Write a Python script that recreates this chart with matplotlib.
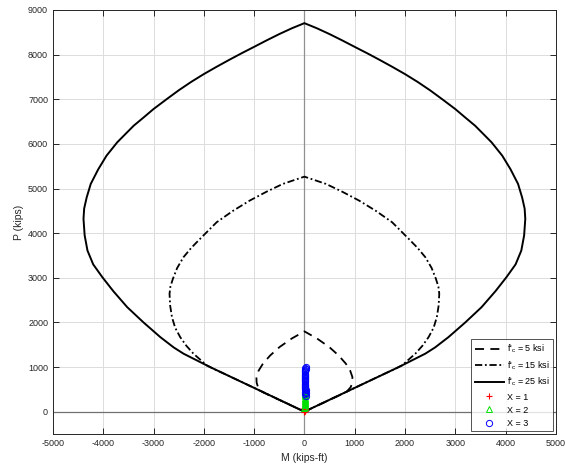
import numpy as np
import matplotlib
matplotlib.use("Agg")
import matplotlib.pyplot as plt

plt.rcParams['font.family'] = ['Liberation Sans', 'DejaVu Sans']
plt.rcParams['mathtext.fontset'] = 'custom'
plt.rcParams['mathtext.rm'] = 'Liberation Sans'
plt.rcParams['mathtext.it'] = 'Liberation Sans'
plt.rcParams['axes.unicode_minus'] = False

# left half of each interaction diagram (M <= 0), from top point down to origin
m_25 = [0, -250, -500, -750, -1000, -1250, -1500, -1750, -2000, -2250,
        -2500, -2737, -3000, -3200, -3395, -3560, -3723, -3935, -4100, -4249,
        -4330, -4380, -4393, -4370, -4314, -4200, -4018, -3800, -3524, -3200,
        -2866, -2600, -2405, -1877, 0]
p_25 = [8705, 8590, 8460, 8320, 8174, 8030, 7880, 7725, 7564, 7390,
        7200, 7004, 6781, 6590, 6407, 6220, 6034, 5736, 5430, 5103,
        4800, 4550, 4320, 3950, 3610, 3300, 3013, 2700, 2342, 2000,
        1671, 1440, 1300, 1000, 0]

m_15 = [0, -200, -429, -750, -1087, -1420, -1745, -2075, -2250, -2405,
        -2530, -2615, -2665, -2682, -2670, -2634, -2570, -2470, -2350, -2207,
        -1943, -1750, -1600, 0]
p_15 = [5266, 5190, 5103, 4930, 4730, 4500, 4244, 3872, 3670, 3461,
        3220, 2978, 2800, 2642, 2380, 2119, 1880, 1671, 1480, 1300,
        1038, 930, 853, 0]

m_5 = [0, -250, -494, -680, -824, -910, -955, -950, -923, -836, 0]
p_5 = [1799, 1640, 1448, 1260, 1076, 920, 776, 650, 553, 441, 0]

# demand points
m_x1 = [0, 4, 8, 3, 10, 6, 2]
p_x1 = [0, 12, 25, 38, 50, 62, 75]

m_x2 = [2, 5, 8, 4, 10, 6, 12, 9, 14, 7, 15, 11, 18, 13, 20, 16, 22, 25]
p_x2 = [85, 110, 140, 165, 190, 215, 240, 265, 290, 315, 340, 365, 390,
        415, 440, 470, 500, 540]

m_x3 = [28, 20, 25, 15, 22, 12, 18, 10, 16, 8, 14, 12, 10, 14, 8, 12,
        10, 15, 12, 18, 14, 20, 16, 22, 18, 25]
p_x3 = [360, 390, 420, 450, 480, 505, 530, 555, 580, 605, 630, 655, 680,
        705, 730, 755, 780, 805, 830, 855, 880, 905, 930, 955, 975, 995]

labels = ["f'$_{\\mathrm{c}}$ = 5 ksi",
          "f'$_{\\mathrm{c}}$ = 15 ksi",
          "f'$_{\\mathrm{c}}$ = 25 ksi"]


def full_curve(m, p):
    m = np.array(m, dtype=float)
    p = np.array(p, dtype=float)
    # mirror about M = 0
    mm = np.concatenate([-m[::-1], m[1:]])
    pp = np.concatenate([p[::-1], p[1:]])
    return mm, pp


fig = plt.figure(figsize=(5.66, 4.67), dpi=100)
ax = fig.add_axes([0.0936, 0.0707, 0.8884, 0.9079])

ax.axhline(0, color='#707070', lw=0.9, zorder=1)
ax.axvline(0, color='#909090', lw=0.9, zorder=1)

mm, pp = full_curve(m_5, p_5)
ax.plot(mm, pp, color='k', lw=1.3, linestyle=(0, (5, 3.5)), label=labels[0], zorder=3)
mm, pp = full_curve(m_15, p_15)
ax.plot(mm, pp, color='k', lw=1.3, linestyle=(0, (4, 1.5, 1, 1.5)), label=labels[1], zorder=3)
mm, pp = full_curve(m_25, p_25)
ax.plot(mm, pp, color='k', lw=1.4, linestyle='-', label=labels[2], zorder=3)

ax.plot(m_x1, p_x1, '+', color='red', ms=5, mew=0.8, linestyle='none', label='X = 1', zorder=4)
ax.plot(m_x2, p_x2, '^', color='#00e000', mfc='none', ms=4.5, mew=0.7, linestyle='none', label='X = 2', zorder=4)
ax.plot(m_x3, p_x3, 'o', color='blue', mfc='none', ms=4.5, mew=0.7, linestyle='none', label='X = 3', zorder=5)

ax.set_xlim(-5000, 5000)
ax.set_ylim(-500, 9000)
ax.set_xticks(np.arange(-5000, 5001, 1000))
ax.set_yticks(np.arange(0, 9001, 1000))
ax.grid(True, color='#dcdcdc', lw=0.7)
ax.set_axisbelow(True)
ax.tick_params(direction='in', length=4, top=True, right=True, labelsize=6.5,
               colors='#262626', width=0.7)
for s in ax.spines.values():
    s.set_color('#262626')
    s.set_linewidth(0.7)

ax.set_xlabel('M (kips-ft)', fontsize=7.5, color='#262626', labelpad=4)
ax.set_ylabel('P (kips)', fontsize=7.5, color='#262626', labelpad=3)

leg = ax.legend(loc='lower right', fontsize=6.5, frameon=True, fancybox=False,
                edgecolor='#262626', handlelength=3.2, borderpad=0.4,
                labelspacing=0.45, handletextpad=0.3, borderaxespad=0.3)
leg.get_frame().set_linewidth(0.7)

fig.savefig('out.png', dpi=100)
